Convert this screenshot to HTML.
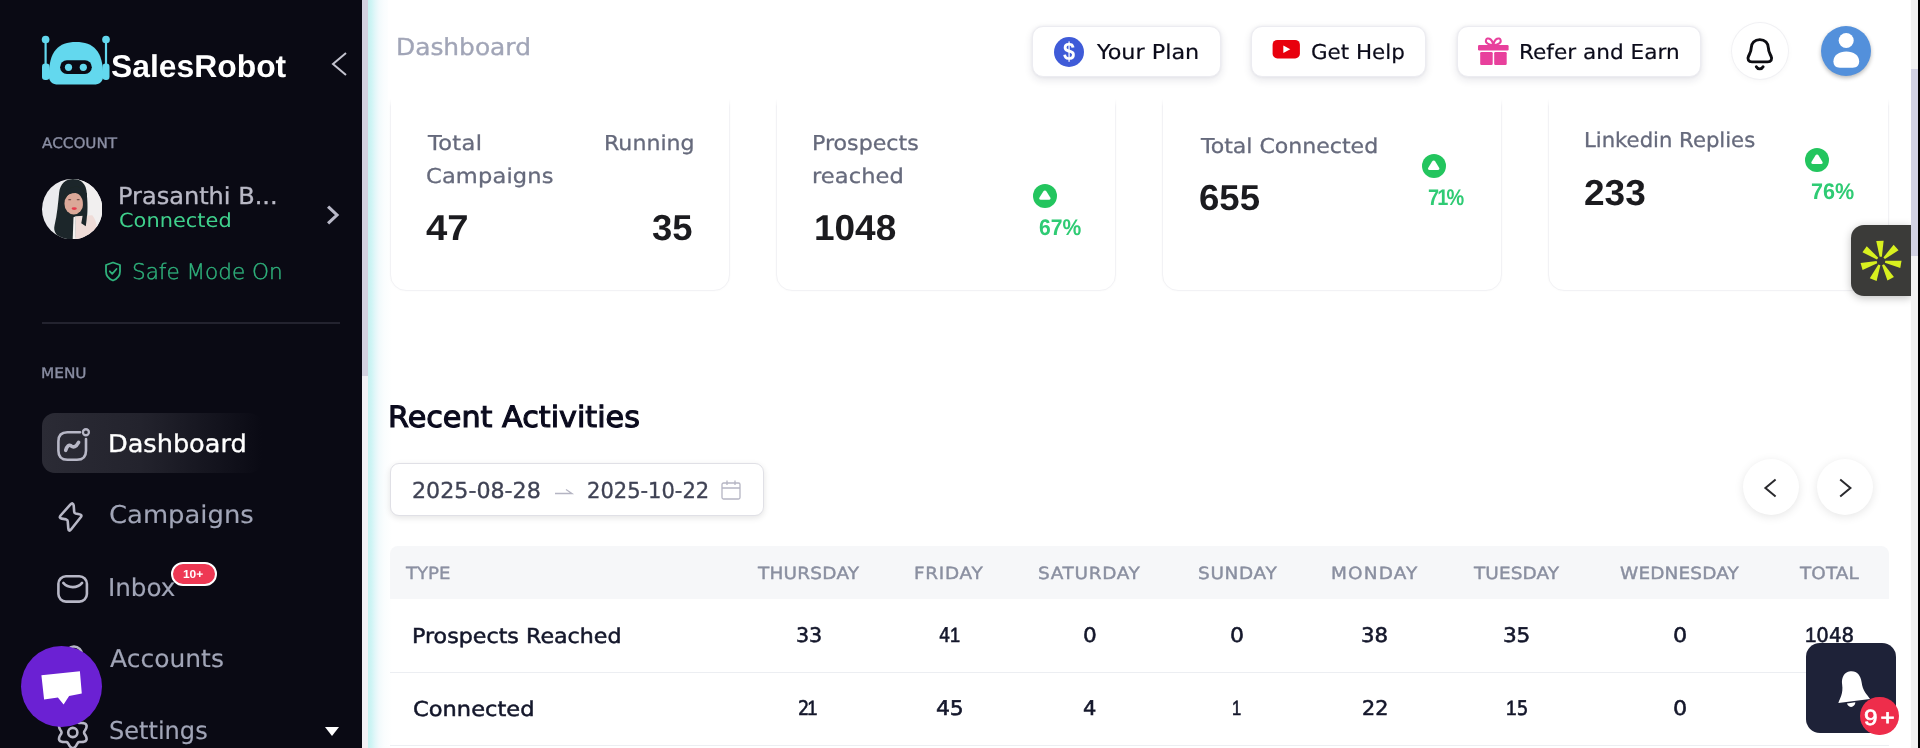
<!DOCTYPE html>
<html lang="en">
<head>
<meta charset="utf-8">
<title>SalesRobot - Dashboard</title>
<style>
*{box-sizing:border-box;margin:0;padding:0}
html,body{width:1920px;height:748px;overflow:hidden;background:#fff}
body{font-family:"DejaVu Sans","Liberation Sans",sans-serif;position:relative}
.L{font-family:"Liberation Sans",sans-serif}
.abs,.t{position:absolute}
.t{white-space:nowrap;line-height:1;text-rendering:geometricPrecision}
.m{-webkit-text-stroke:.35px currentColor}
#side{position:absolute;left:0;top:0;width:361.500px;height:748px;background:#0a0a14;overflow:hidden}
#sscroll{position:absolute;left:361.500px;top:0;width:6.500px;height:748px;background:#f1f1f5}
#sscroll i{position:absolute;left:0;top:0;width:6.500px;height:375.700px;background:#d2d2e0}
#main{position:absolute;left:368px;top:0;width:1543px;height:748px;background:linear-gradient(90deg,#c7f2f1 0,#cdf4f4 3px,#e2f7f9 7px,#f2fafc 11px,#fafdfe 16px,#fff 24px);overflow:hidden}
#rscroll{position:absolute;left:1910.700px;top:0;width:7px;height:748px;background:#f2f2f2}
#rscroll i{position:absolute;left:0;top:69px;width:7px;height:187px;background:#d1d1e2}
#redge{position:absolute;left:1917.500px;top:0;width:2.500px;height:748px;background:#000}
.card{position:absolute;top:60px;width:340px;height:230.500px;background:#fff;border:1.500px solid #f2f2f5;border-radius:16px;box-shadow:0 0 3px rgba(0,0,0,.025)}
.lbl{color:#666a7c;-webkit-text-stroke:.3px #666a7c}
.num{color:#1b1b1f;font-weight:700}
.pct{color:#2fcb74;font-weight:700}
.up{position:absolute;width:24px;height:24px;border-radius:50%;background:#23c55e}
.up:after{content:"";position:absolute;left:5.500px;top:6.300px;width:13px;height:11px;background:#fff;clip-path:path("M6.500 0.500 C7.200 0.500 7.700 0.900 8.100 1.500 L11.900 7.600 C12.600 8.800 12 9.800 10.700 9.800 L2.300 9.800 C1 9.800 0.400 8.800 1.100 7.600 L4.900 1.500 C5.300 0.900 5.800 0.500 6.500 0.500Z")}
#topbar{position:absolute;left:388px;top:0;width:1523px;height:107px;background:linear-gradient(180deg,#fff 0,#fff 99px,rgba(255,255,255,0) 107px)}
.btn{position:absolute;top:26px;height:50.500px;background:#fff;border-radius:11px;border:1px solid #ececf1;box-shadow:0 3px 8px rgba(30,30,60,.11),0 0 3px rgba(30,30,60,.06)}
.btxt{color:#0b0b1a;-webkit-text-stroke:.2px #0b0b1a}
.mi{color:#a1a5b7;-webkit-text-stroke:.15px #a1a5b7}
.th{color:#8a8fa0;-webkit-text-stroke:.4px #8a8fa0}
.td{color:#14172b;-webkit-text-stroke:.55px #14172b}
.o{font-family:"Liberation Sans",sans-serif;font-weight:400;font-size:1.030em;-webkit-text-stroke:.65px #14172b}
.circ{position:absolute;width:56px;height:56px;border-radius:50%;background:#fff;box-shadow:0 2px 10px rgba(0,0,0,.10)}
</style>
</head>
<body>

<!-- ================= SIDEBAR ================= -->
<div id="side">
  <!-- logo -->
  <svg class="abs" style="left:36px;top:30px" width="80" height="60" viewBox="36 30 80 60">
    <g fill="#63d8ee">
      <circle cx="45.600" cy="39.500" r="3.850"/><rect x="44.500" y="39.500" width="2.200" height="26"/>
      <circle cx="106" cy="39.500" r="3.850"/><rect x="104.900" y="39.500" width="2.200" height="26"/>
      <rect x="42" y="63.500" width="7.500" height="16.500" rx="3.200"/><rect x="102.500" y="63.500" width="7" height="16.500" rx="3.200"/>
      <path d="M48.800 76 C48.800 51 58.500 41.900 76 41.900 C93.500 41.900 103.200 51 103.200 76 C103.200 82 99 84.600 94 84.600 L58 84.600 C53 84.600 48.800 82 48.800 76Z"/>
    </g>
    <rect x="60.100" y="60.300" width="31.700" height="13.700" rx="6.850" fill="#0a0a14"/>
    <circle cx="68.500" cy="67.300" r="3.600" fill="#63d8ee"/><circle cx="83.300" cy="67.300" r="3.600" fill="#63d8ee"/>
  </svg>
  <span id="t0" class="t L" style="left:111px;top:51.21px;font-size:31.5px;font-weight:700;color:#fff;letter-spacing:0px;transform:scaleX(1.011);transform-origin:0 0">SalesRobot</span>
  <svg class="abs" style="left:328px;top:50px" width="22" height="28" viewBox="0 0 22 28"><path d="M18 3 L5 14 L18 25" fill="none" stroke="#c4c4cf" stroke-width="2"/></svg>

  <span id="t1" class="t m" style="left:42px;top:137.01px;font-size:14.5px;color:#8a8ea3;letter-spacing:-0.01px;transform:scaleX(1.050);transform-origin:0 0">ACCOUNT</span>

  <!-- avatar -->
  <svg class="abs" style="left:42px;top:179px" width="60.400" height="60.400" viewBox="0 0 60 60">
    <defs><clipPath id="avc"><circle cx="30" cy="30" r="30"/></clipPath><filter id="avb" x="-10%" y="-10%" width="120%" height="120%"><feGaussianBlur stdDeviation="0.700"/></filter></defs>
    <g clip-path="url(#avc)">
      <rect width="60" height="60" fill="#ebebee"/>
      <g filter="url(#avb)">
        <rect x="36" y="0" width="24" height="60" fill="#f1efef"/>
        <path d="M17 14 C18 4 24 0 31 0 C39 0 44 5 44.500 14 C45.500 28 45 40 44 49 L36 50 L33 60 L20 60 C14 56 11 52 12.500 46 C15 36 16 24 17 14Z" fill="#1d2829"/>
        <path d="M33.500 37 L50 36 C55 42 56 52 52 60 L33 60Z" fill="#efdcd8"/>
        <path d="M31.300 38 L33.600 37 L33.400 60 L30.500 60Z" fill="#f4f1f0"/>
        <ellipse cx="31.600" cy="24.500" rx="9.300" ry="10.800" fill="#dba898"/>
        <path d="M21.500 19.500 C23 10 30 7 36 8 C40 9 42.500 12 42.500 18 C38 12.500 28 12 21.500 19.500Z" fill="#1d2829"/><path d="M39.500 14 L44.500 14 C45.500 28 45 38 43.500 47 L39 44 C41 36 41.500 26 39.500 14Z" fill="#1d2829"/>
        <ellipse cx="32" cy="29.400" rx="2.600" ry="1.300" fill="#e63b4d"/>
        <ellipse cx="27.500" cy="20.500" rx="1.600" ry="0.600" fill="#6b4a44"/><ellipse cx="36" cy="20.500" rx="1.600" ry="0.600" fill="#6b4a44"/>
      </g>
    </g>
  </svg>
  <span id="t2" class="t m" style="left:118px;top:184.6px;font-size:23.5px;color:#b9b9c6;letter-spacing:0px;transform:scaleX(1.023);transform-origin:0 0">Prasanthi B...</span>
  <span id="t3" class="t" style="left:119px;top:210.61px;font-size:19.5px;color:#3fd08c;letter-spacing:0.03px;transform:scaleX(1.071);transform-origin:0 0">Connected</span>
  <svg class="abs" style="left:322px;top:202px" width="22" height="26" viewBox="0 0 22 26"><path d="M7.200 5.600 L15 13 L7.200 20.400" fill="none" stroke="#b9b9c8" stroke-width="3.100" stroke-linecap="square"/></svg>

  <svg class="abs" style="left:102px;top:260px" width="22" height="23" viewBox="0 0 22 23"><path d="M11 2.500 L18 5 V11.500 C18 16 15 19 11 20.500 C7 19 4 16 4 11.500 V5 Z" fill="none" stroke="#2fb27c" stroke-width="1.800" stroke-linejoin="round"/><path d="M7.800 11.300 L10.200 13.800 L14.500 9" fill="none" stroke="#2fb27c" stroke-width="1.800" stroke-linecap="round" stroke-linejoin="round"/></svg>
  <span id="t4" class="t" style="left:132px;top:262.01px;font-size:21.5px;color:#2fb27c;font-weight:200;letter-spacing:-0.04px;transform:scaleX(1.004);transform-origin:0 0;-webkit-text-stroke:.4px #2fb27c">Safe Mode On</span>

  <div class="abs" style="left:42px;top:322px;width:298px;height:2px;background:#23232f"></div>

  <span id="t5" class="t m" style="left:41px;top:367.01px;font-size:14.5px;color:#8a8ea3;letter-spacing:0px;transform:scaleX(1.056);transform-origin:0 0">MENU</span>

  <div class="abs" style="left:42px;top:413px;width:220px;height:60px;border-radius:13px;background:linear-gradient(90deg,#2b2b35 0,#23232d 45%,rgba(20,20,30,0) 100%)"></div>
  
  <span id="t6" class="t m" style="left:108px;top:432.01px;font-size:24.5px;color:#fff;letter-spacing:-0.02px;transform:scaleX(1.045);transform-origin:0 0">Dashboard</span>

  
  <span id="t7" class="t mi" style="left:109px;top:503.4px;letter-spacing:0px;font-size:24.5px;transform:scaleX(1.055);transform-origin:0 0">Campaigns</span>

  
  <span id="t8" class="t mi" style="left:108px;top:575.51px;letter-spacing:-0.06px;font-size:24.5px;transform:scaleX(1.007);transform-origin:0 0">Inbox</span>
  <div class="abs" style="left:170.800px;top:561.500px;width:46.400px;height:24.700px;border-radius:13px;background:#ee3853;border:2px solid #fff"></div>
  <span id="t9" class="t L" style="left:183px;top:569.71px;font-size:11.5px;color:#fff;letter-spacing:-0.06px;transform:scaleX(1.041);transform-origin:0 0;font-weight:700">10+</span>

  
  <span id="t10" class="t mi" style="left:110px;top:647.31px;letter-spacing:0.03px;font-size:24.5px;transform:scaleX(1.018);transform-origin:0 0">Accounts</span>

  
  <span id="t11" class="t mi" style="left:109px;top:718.71px;letter-spacing:0px;font-size:24.5px;transform:scaleX(0.982);transform-origin:0 0">Settings</span>
  <div class="abs" style="left:325px;top:727px;border-left:7.500px solid transparent;border-right:7.500px solid transparent;border-top:9px solid #fff"></div>

  <!-- chat bubble -->
  <svg class="abs" style="left:0;top:0" width="362" height="748" viewBox="0 0 362 748" fill="none" stroke="#b7b7c6" stroke-width="2.600" stroke-linecap="round" stroke-linejoin="round">
    <path d="M80 432.200 H67.400 C61.400 432.200 58.400 435.200 58.400 441.200 V450.800 C58.400 456.800 61.400 459.800 67.400 459.800 H77 C83 459.800 86 456.800 86 450.800 V439"/>
    <circle cx="85.900" cy="432.250" r="3" stroke-width="2.300"/>
    <path d="M65.700 450.300 C67 446 69 444.300 71 445.800 C73.500 447.800 76 447 78.600 442.300" stroke-width="3.600"/>
    <path d="M70.300 504.600 L60.600 515.500 Q58.600 518 61.800 518.600 L66.200 519.400 Q67.600 519.700 67.700 521 L68.300 528.500 Q68.700 532.300 71.200 529.200 L80.700 517.300 Q82.600 514.700 79.400 514.200 L75.600 513.500 Q74.300 513.200 74.200 511.900 L73.700 505.500 Q73 501.800 70.300 504.600Z"/>
    <rect x="58.400" y="576.300" width="28.500" height="25.300" rx="7.500"/>
    <path d="M63.300 582.900 C68 588.500 77.500 588.500 82.100 582.900"/>
    <circle cx="74" cy="654.500" r="8"/>
    <path d="M86.2 740.2 L85.5 741.1 L84.5 741.6 L83.2 741.9 L82.0 742.0 L80.7 742.0 L79.7 742.0 L78.8 742.1 L78.1 742.5 L77.6 743.2 L77.0 744.1 L76.4 745.2 L75.7 746.2 L74.9 747.2 L73.9 747.8 L72.8 748.0 L71.7 747.8 L70.7 747.2 L69.9 746.2 L69.2 745.2 L68.6 744.1 L68.0 743.2 L67.5 742.5 L66.8 742.1 L65.9 742.0 L64.9 742.0 L63.6 742.0 L62.4 741.9 L61.1 741.6 L60.1 741.1 L59.4 740.2 L59.0 739.2 L59.1 738.0 L59.4 736.8 L60.0 735.7 L60.6 734.6 L61.2 733.7 L61.5 732.9 L61.5 732.1 L61.2 731.3 L60.6 730.4 L60.0 729.3 L59.4 728.2 L59.1 727.0 L59.0 725.8 L59.4 724.8 L60.1 723.9 L61.1 723.4 L62.4 723.1 L63.6 723.0 L64.9 723.0 L65.9 723.0 L66.8 722.9 L67.5 722.5 L68.0 721.8 L68.6 720.9 L69.2 719.8 L69.9 718.8 L70.7 717.8 L71.7 717.2 L72.8 717.0 L73.9 717.2 L74.9 717.8 L75.7 718.8 L76.4 719.8 L77.0 720.9 L77.6 721.8 L78.1 722.5 L78.8 722.9 L79.7 723.0 L80.7 723.0 L82.0 723.0 L83.2 723.1 L84.5 723.4 L85.5 723.9 L86.2 724.8 L86.6 725.8 L86.5 727.0 L86.2 728.2 L85.6 729.3 L85.0 730.4 L84.4 731.3 L84.1 732.1 L84.1 732.9 L84.4 733.7 L85.0 734.6 L85.6 735.7 L86.2 736.8 L86.5 738.0 L86.6 739.2Z"/>
    <circle cx="72.8" cy="732.5" r="4.600"/>
  </svg>
  <div class="abs" style="left:21.200px;top:646.200px;width:80.800px;height:80.800px;border-radius:50%;background:#6b21d3"></div>
  <svg class="abs" style="left:0;top:640px" width="120" height="100" viewBox="0 640 120 100"><path d="M41.400 675.200 L79.900 671.200 L81.800 693.600 L69.100 695.900 L63.600 704.500 L57.900 697.600 L44.100 699.600Z" fill="#fff"/></svg>
  
</div>
<div id="sscroll"><i></i></div>

<!-- ================= MAIN ================= -->
<div id="main"></div>

<!-- cards -->
<div class="card" style="left:390px"></div>
<div class="card" style="left:776px"></div>
<div class="card" style="left:1162px"></div>
<div class="card" style="left:1548px;width:341px"></div>

<span id="t12" class="t lbl" style="left:428px;top:132.9px;font-size:20.5px;letter-spacing:0.28px;transform:scaleX(1.100);transform-origin:0 0">Total</span>
<span id="t13" class="t lbl" style="left:426px;top:165.6px;font-size:20.5px;letter-spacing:0.13px;transform:scaleX(1.100);transform-origin:0 0">Campaigns</span>
<span id="t14" class="t lbl" style="left:604px;top:132.9px;font-size:20.5px;letter-spacing:0.03px;transform:scaleX(1.076);transform-origin:0 0">Running</span>
<span id="t15" class="t L num" style="left:426px;top:210.11px;font-size:36px;letter-spacing:-0.03px;transform:scaleX(1.063);transform-origin:0 0">47</span>
<span id="t16" class="t L num" style="left:652px;top:210.11px;font-size:36px;letter-spacing:0.06px;transform:scaleX(1.013);transform-origin:0 0">35</span>

<span id="t17" class="t lbl" style="left:812px;top:132.9px;font-size:20.5px;letter-spacing:0px;transform:scaleX(1.080);transform-origin:0 0">Prospects</span>
<span id="t18" class="t lbl" style="left:812px;top:165.6px;font-size:20.5px;letter-spacing:0.06px;transform:scaleX(1.100);transform-origin:0 0">reached</span>
<span id="t19" class="t L num" style="left:814px;top:210.11px;font-size:36px;letter-spacing:0px;transform:scaleX(1.027);transform-origin:0 0">1048</span>
<div class="up" style="left:1032.900px;top:183.700px"></div>
<span id="t20" class="t L pct" style="left:1039px;top:216.71px;font-size:22.6px;letter-spacing:0.04px;transform:scaleX(0.934);transform-origin:0 0">67%</span>

<span id="t21" class="t lbl" style="left:1201px;top:135.71px;font-size:20.5px;letter-spacing:-0.01px;transform:scaleX(1.076);transform-origin:0 0">Total Connected</span>
<span id="t22" class="t L num" style="left:1199px;top:180.21px;font-size:36px;letter-spacing:0.03px;transform:scaleX(1.016);transform-origin:0 0">655</span>
<div class="up" style="left:1421.700px;top:153.800px"></div>
<span id="t23" class="t L pct" style="left:1428px;top:187.21px;font-size:22.6px;letter-spacing:-1.99px;transform:scaleX(0.880);transform-origin:0 0">71%</span>

<span id="t24" class="t lbl" style="left:1584px;top:129.9px;font-size:20.5px;letter-spacing:0px;transform:scaleX(1.033);transform-origin:0 0">Linkedin Replies</span>
<span id="t25" class="t L num" style="left:1584px;top:174.51px;font-size:36px;letter-spacing:-0.02px;transform:scaleX(1.029);transform-origin:0 0">233</span>
<div class="up" style="left:1805px;top:147.800px"></div>
<span id="t26" class="t L pct" style="left:1811px;top:181.01px;font-size:22.6px;letter-spacing:0.05px;transform:scaleX(0.954);transform-origin:0 0">76%</span>

<!-- topbar -->
<div id="topbar"></div>
<span id="t27" class="t m" style="left:396px;top:35.91px;font-size:23.4px;color:#a1a5b7;letter-spacing:-0.01px;transform:scaleX(1.064);transform-origin:0 0">Dashboard</span>

<div class="btn" style="left:1032px;width:189px"></div>
<div class="abs" style="left:1054px;top:36.800px;width:30px;height:30px;border-radius:50%;background:#3f5bd8"></div>
<span id="t28" class="t L" style="left:1063px;top:40.31px;font-size:25px;font-weight:700;color:#fff;letter-spacing:0px;transform:scaleX(0.869);transform-origin:0 0">$</span>
<span id="t29" class="t btxt" style="left:1097px;top:41.75px;font-size:20.5px;letter-spacing:0.01px;transform:scaleX(1.088);transform-origin:0 0">Your Plan</span>

<div class="btn" style="left:1251px;width:175px"></div>
<svg class="abs" style="left:1271px;top:39px" width="30" height="22" viewBox="0 0 30 22"><rect x="1.600" y="0.900" width="27.300" height="18.600" rx="4.800" fill="#e8000d"/><path d="M12.300 6.500 L19.300 10.300 L12.300 14.100Z" fill="#fff"/></svg>
<span id="t30" class="t btxt" style="left:1311px;top:41.75px;font-size:20.5px;letter-spacing:0px;transform:scaleX(1.045);transform-origin:0 0">Get Help</span>

<div class="btn" style="left:1457px;width:244px"></div>
<svg class="abs" style="left:1478px;top:36px" width="32" height="32" viewBox="0 0 32 32" fill="#e8409c">
  <rect x="0" y="9" width="30.600" height="5.400" rx="1.200"/>
  <rect x="2.200" y="16" width="12.500" height="13" rx="1.200"/><rect x="16.200" y="16" width="12.500" height="13" rx="1.200"/>
  <path d="M15.300 9 C11 9 7 7 8 4 C9 1 14 2 15.300 9Z M15.300 9 C19.600 9 23.600 7 22.600 4 C21.600 1 16.600 2 15.300 9Z" fill="none" stroke="#e8409c" stroke-width="2"/>
</svg>
<span id="t31" class="t btxt" style="left:1519px;top:41.61px;font-size:20.5px;letter-spacing:0px;transform:scaleX(1.054);transform-origin:0 0">Refer and Earn</span>

<div class="circ" style="left:1732px;top:23px;box-shadow:0 0 0 1px #f1f1f4,0 2px 6px rgba(0,0,0,.04)"></div>
<svg class="abs" style="left:1740px;top:30px" width="40" height="46" viewBox="1740 30 40 46" fill="none" stroke="#0d0d12" stroke-width="2.900" stroke-linecap="round" stroke-linejoin="round"><path d="M1759.800 39.600 C1754.600 39.600 1751.200 43.200 1751.200 48 C1751.200 51.500 1749.800 53.500 1748.600 56 C1747 59.200 1748.600 61.900 1752 61.900 H1767.600 C1771 61.900 1772.600 59.200 1771 56 C1769.800 53.500 1768.400 51.500 1768.400 48 C1768.400 43.200 1765 39.600 1759.800 39.600Z"/><path d="M1756.300 66.800 C1757.800 69.600 1761.600 69.600 1763.100 66.800"/></svg>

<div class="abs" style="left:1821.200px;top:26.300px;width:50.200px;height:50.200px;border-radius:50%;background:#5390db;box-shadow:0 2px 4px rgba(0,0,0,.28)"></div>
<svg class="abs" style="left:1821.200px;top:26.300px" width="50.200" height="50.200" viewBox="0 0 50 50" fill="#fff"><circle cx="25.100" cy="14.400" r="7.500"/><path d="M12.400 35.200 C12.400 29 18 25.300 25.200 25.300 C32.400 25.300 38 29 38 35.200 C38 39.200 36 41.600 31.500 41.600 H18.900 C14.400 41.600 12.400 39.200 12.400 35.200Z"/></svg>

<!-- side widget -->
<div class="abs" style="left:1851px;top:225px;width:60px;height:71px;border-radius:13px 0 0 13px;background:#3b3b39;box-shadow:0 2px 8px rgba(0,0,0,.25)"></div>
<svg class="abs" style="left:1857px;top:237px" width="48" height="48" viewBox="-24 -24 48 48" fill="#d8f01f"><path d="M-1.100 -4.200 L-3.700 -20.200 L3.700 -20.200 L1.100 -4.200Z" transform="rotate(-3.0)"/><path d="M-1.100 -4.200 L-3.700 -20.200 L3.700 -20.200 L1.100 -4.200Z" transform="rotate(48.4)"/><path d="M-1.100 -4.200 L-3.700 -20.200 L3.700 -20.200 L1.100 -4.200Z" transform="rotate(99.9)"/><path d="M-1.100 -4.200 L-3.700 -20.200 L3.700 -20.200 L1.100 -4.200Z" transform="rotate(151.3)"/><path d="M-1.100 -4.200 L-3.700 -20.200 L3.700 -20.200 L1.100 -4.200Z" transform="rotate(202.7)"/><path d="M-1.100 -4.200 L-3.700 -20.200 L3.700 -20.200 L1.100 -4.200Z" transform="rotate(254.1)"/><path d="M-1.100 -4.200 L-3.700 -20.200 L3.700 -20.200 L1.100 -4.200Z" transform="rotate(305.6)"/></svg>

<!-- recent activities -->
<span id="t32" class="t" style="left:388px;top:402.9px;font-size:29.3px;color:#0b0b1e;-webkit-text-stroke:1.1px #0b0b1e;letter-spacing:0.01px;transform:scaleX(1.031);transform-origin:0 0">Recent Activities</span>

<div class="abs" style="left:390px;top:463.400px;width:373.500px;height:52.200px;border-radius:9px;background:#fff;border:1px solid #e0e0e6;box-shadow:0 2px 6px rgba(0,0,0,.11)"></div>
<span id="t33" class="t m" style="left:412px;top:480.71px;font-size:22px;color:#3f4254;letter-spacing:-0.02px;transform:scaleX(1.009);transform-origin:0 0">2025-08-28</span>
<svg class="abs" style="left:553px;top:484px" width="22" height="14" viewBox="0 0 22 14"><path d="M2 9.500 H19 L13 5.500" fill="none" stroke="#b5b5c3" stroke-width="1.300"/></svg>
<span id="t34" class="t m" style="left:587px;top:480.71px;font-size:22px;color:#3f4254;letter-spacing:-0.02px;transform:scaleX(0.957);transform-origin:0 0">2025-10-22</span>
<svg class="abs" style="left:720px;top:479px" width="22" height="22" viewBox="0 0 22 22" fill="none" stroke="#b5b5c3" stroke-width="1.300"><rect x="2" y="4" width="18" height="16" rx="1.500"/><path d="M2 9 H20 M7 1.500 V6 M15 1.500 V6"/></svg>

<div class="circ" style="left:1743px;top:459px"></div>
<svg class="abs" style="left:1761px;top:476.800px" width="20" height="22" viewBox="0 0 20 22"><path d="M14.600 2.600 L4.400 11 L14.600 19.400" fill="none" stroke="#2a2a2e" stroke-width="2"/></svg>
<div class="circ" style="left:1817px;top:459px"></div>
<svg class="abs" style="left:1835px;top:476.800px" width="20" height="22" viewBox="0 0 20 22"><path d="M5.200 2.600 L15.400 11 L5.200 19.400" fill="none" stroke="#2a2a2e" stroke-width="2"/></svg>

<!-- table -->
<div class="abs" style="left:390.300px;top:546.300px;width:1499px;height:52.900px;background:#f6f7f9;border-radius:8px 8px 0 0"></div>
<span id="t35" class="t m" style="left:406px;top:565.31px;font-size:16.8px;color:#8b90a2;letter-spacing:-0.06px;transform:scaleX(1.083);transform-origin:0 0">TYPE</span>
<span id="t36" class="t th" style="left:758px;top:565.31px;font-size:16.8px;letter-spacing:0.2px;transform:scaleX(1.100);transform-origin:0 0">THURSDAY</span>
<span id="t37" class="t th" style="left:914px;top:565.31px;font-size:16.8px;letter-spacing:0.62px;transform:scaleX(1.100);transform-origin:0 0">FRIDAY</span>
<span id="t38" class="t th" style="left:1038px;top:565.31px;font-size:16.8px;letter-spacing:0.6px;transform:scaleX(1.100);transform-origin:0 0">SATURDAY</span>
<span id="t39" class="t th" style="left:1198px;top:565.31px;font-size:16.8px;letter-spacing:0.61px;transform:scaleX(1.100);transform-origin:0 0">SUNDAY</span>
<span id="t40" class="t th" style="left:1331px;top:565.31px;font-size:16.8px;letter-spacing:1.03px;transform:scaleX(1.100);transform-origin:0 0">MONDAY</span>
<span id="t41" class="t th" style="left:1474px;top:565.31px;font-size:16.8px;letter-spacing:0.08px;transform:scaleX(1.100);transform-origin:0 0">TUESDAY</span>
<span id="t42" class="t th" style="left:1620px;top:565.31px;font-size:16.8px;letter-spacing:0.13px;transform:scaleX(1.100);transform-origin:0 0">WEDNESDAY</span>
<span id="t43" class="t th" style="left:1800px;top:565.31px;font-size:16.8px;letter-spacing:0.06px;transform:scaleX(1.099);transform-origin:0 0">TOTAL</span>

<div class="abs" style="left:390px;top:672.100px;width:1499px;height:1px;background:#eceef2"></div>
<div class="abs" style="left:390px;top:745.300px;width:1499px;height:1px;background:#eceef2"></div>

<span id="t44" class="t m" style="left:412px;top:626px;font-size:20.5px;color:#14172b;letter-spacing:0.01px;transform:scaleX(1.081);transform-origin:0 0;-webkit-text-stroke:.5px #14172b">Prospects Reached</span>
<span id="t45" class="t td" style="left:796px;top:625.4px;font-size:20.1px;letter-spacing:-0.02px;transform:scaleX(1.028);transform-origin:0 0">33</span>
<span id="t46" class="t td" style="left:939px;top:625.4px;font-size:20.1px;letter-spacing:-0.33px;transform:scaleX(0.880);transform-origin:0 0">4<b class="o">1</b></span>
<span id="t47" class="t td" style="left:1083px;top:625.4px;font-size:20.1px;letter-spacing:0px;transform:scaleX(1.075);transform-origin:0 0">0</span>
<span id="t48" class="t td" style="left:1230px;top:625.4px;font-size:20.1px;letter-spacing:0px;transform:scaleX(1.094);transform-origin:0 0">0</span>
<span id="t49" class="t td" style="left:1361px;top:625.4px;font-size:20.1px;letter-spacing:0.03px;transform:scaleX(1.058);transform-origin:0 0">38</span>
<span id="t50" class="t td" style="left:1503px;top:625.4px;font-size:20.1px;letter-spacing:-0.23px;transform:scaleX(1.078);transform-origin:0 0">35</span>
<span id="t51" class="t td" style="left:1673px;top:625.4px;font-size:20.1px;letter-spacing:0px;transform:scaleX(1.108);transform-origin:0 0">0</span>
<span id="t52" class="t td" style="left:1805px;top:625.4px;font-size:20.1px;letter-spacing:0.03px;transform:scaleX(0.983);transform-origin:0 0"><b class="o">1</b>048</span>

<span id="t53" class="t m" style="left:413px;top:699px;font-size:20.5px;color:#14172b;letter-spacing:0.02px;transform:scaleX(1.099);transform-origin:0 0;-webkit-text-stroke:.5px #14172b">Connected</span>
<span id="t54" class="t td" style="left:798px;top:698.4px;font-size:20.1px;letter-spacing:-2.41px;transform:scaleX(0.880);transform-origin:0 0">2<b class="o">1</b></span>
<span id="t55" class="t td" style="left:936px;top:698.4px;font-size:20.1px;letter-spacing:-0.21px;transform:scaleX(1.090);transform-origin:0 0">45</span>
<span id="t56" class="t td" style="left:1083px;top:698.4px;font-size:20.1px;letter-spacing:0px;transform:scaleX(1.043);transform-origin:0 0">4</span>
<span id="t57" class="t td" style="left:1232px;top:698.4px;font-size:20.1px;letter-spacing:0px;transform:scaleX(0.800);transform-origin:0 0"><b class="o">1</b></span>
<span id="t58" class="t td" style="left:1362px;top:698.4px;font-size:20.1px;letter-spacing:0.02px;transform:scaleX(1.031);transform-origin:0 0">22</span>
<span id="t59" class="t td" style="left:1506px;top:698.4px;font-size:20.1px;letter-spacing:0.14px;transform:scaleX(0.913);transform-origin:0 0"><b class="o">1</b>5</span>
<span id="t60" class="t td" style="left:1673px;top:698.4px;font-size:20.1px;letter-spacing:0px;transform:scaleX(1.108);transform-origin:0 0">0</span>

<!-- notification widget -->
<div class="abs" style="left:1806px;top:643px;width:90px;height:90px;border-radius:14px;background:#1e2238"></div>
<svg class="abs" style="left:1826px;top:660px" width="56" height="56" viewBox="-28 -28 56 56"><g transform="translate(-1.300 1.600) rotate(-7.500)" fill="#fff"><path d="M0 -18.500 C-6.500 -18.500 -9.800 -13 -9.800 -6.500 C-9.800 3 -13.500 6 -16 11.500 H16 C13.500 6 9.800 3 9.800 -6.500 C9.800 -13 6.500 -18.500 0 -18.500Z"/><path d="M-7.500 13 C-6.500 18.300 0 18.300 1 13Z"/></g></svg>
<div class="abs" style="left:1860px;top:696.900px;width:38.600px;height:38.600px;border-radius:50%;background:#ee2d4b"></div>
<span id="t61" class="t L" style="left:1864px;top:707px;font-size:22px;font-weight:400;-webkit-text-stroke:.7px #fff;color:#fff;letter-spacing:2.66px;transform:scaleX(1.100);transform-origin:0 0">9+</span>

<div id="rscroll"><i></i></div>
<div id="redge"></div>
</body>
</html>
